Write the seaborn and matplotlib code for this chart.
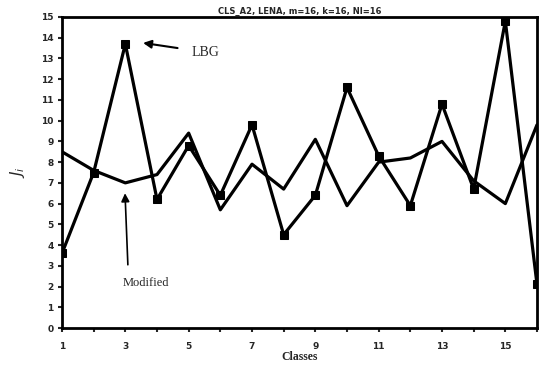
import matplotlib
matplotlib.use("Agg")
import matplotlib.pyplot as plt
import seaborn as sns
import pandas as pd
import numpy as np

classes = list(range(1, 17))
lbg = [3.6, 7.5, 13.7, 6.2, 8.8, 6.4, 9.8, 4.5, 6.4, 11.6, 8.3, 5.9, 10.8, 6.7, 14.8, 2.1]
modified = [8.5, 7.6, 7.0, 7.4, 9.4, 5.7, 7.9, 6.7, 9.1, 5.9, 8.0, 8.2, 9.0, 7.1, 6.0, 9.8]
xtick_labels = [1, 3, 5, 7, 9, 11, 13, 15]
ytick_labels = list(range(0, 16))

sns.set_theme(style="white")
plt.rcParams['font.family'] = ['DejaVu Sans']

df = pd.DataFrame({"Classes": classes, "LBG": lbg, "Modified": modified})

fig = plt.figure(figsize=(5.44, 3.71), dpi=100)
ax = fig.add_axes([62/544, 1 - 328/371, (537-62)/544, (328-17)/371])

sns.lineplot(data=df, x="Classes", y="LBG", ax=ax, color="black", lw=2.3,
             marker="s", markersize=6, markeredgecolor="black", markerfacecolor="black")
sns.lineplot(data=df, x="Classes", y="Modified", ax=ax, color="black", lw=2.3)

ax.set_xlim(1, 16)
ax.set_ylim(0, 15)
ax.set_xticks(xtick_labels)
ax.set_xticks(classes, minor=True)
ax.set_yticks(ytick_labels)
ax.set_xticklabels([str(v) for v in xtick_labels], fontsize=6.5, fontweight="bold")
ax.set_yticklabels([str(v) for v in ytick_labels], fontsize=6.5, fontweight="bold")
ax.tick_params(axis="x", which="both", direction="out", length=3, width=1.5, bottom=True, pad=7)
ax.tick_params(axis="y", which="both", direction="out", length=3, width=1.5, left=True, pad=3)
for s in ax.spines.values():
    s.set_linewidth(2)
    s.set_color("black")

ax.set_xlabel("Classes", fontsize=8.5, fontweight="bold", family="Liberation Serif", labelpad=0)
ax.set_ylabel(r"$J_i$", fontsize=11, labelpad=10)
ax.set_title("CLS_A2, LENA, m=16, k=16, NI=16", fontsize=6, fontweight="bold", pad=2)

ax.annotate("LBG", xy=(3.56, 13.75), xytext=(5.1, 13.3), fontsize=10,
            family="Liberation Serif", va="center", ha="left",
            arrowprops=dict(arrowstyle="-|>", color="black", lw=1.5, shrinkA=8, shrinkB=0,
                            mutation_scale=12))
ax.annotate("", xy=(2.99, 6.5), xytext=(3.08, 3.05),
            arrowprops=dict(arrowstyle="-|>", color="black", lw=1.2, shrinkA=0, shrinkB=0,
                            mutation_scale=12))
ax.text(3.65, 2.15, "Modified", fontsize=9, family="Liberation Serif", ha="center", va="center")

fig.savefig("out.png", dpi=100)
